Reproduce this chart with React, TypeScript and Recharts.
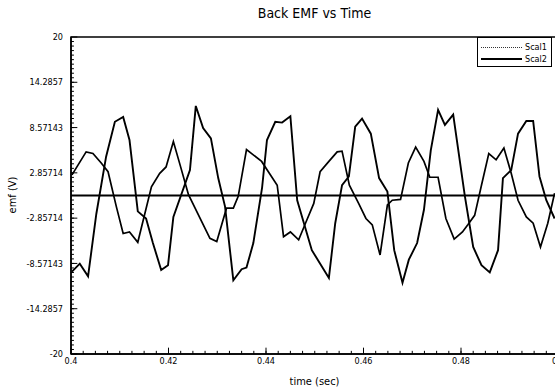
import React from 'react';
import { LineChart, Line, XAxis, YAxis, ReferenceLine, ReferenceArea, Legend } from 'recharts';

// Series (time in s, emf in V)
const scal1Time = [0.4002, 0.4031, 0.4045, 0.4062, 0.4076, 0.4093, 0.4107, 0.4120, 0.4137, 0.4165, 0.4182, 0.4195, 0.4210, 0.4224, 0.4241, 0.4285, 0.4299, 0.4319, 0.4333, 0.4343, 0.4360, 0.4391, 0.4423, 0.4436, 0.4450, 0.4467, 0.4481, 0.4498, 0.4511, 0.4529, 0.4546, 0.4556, 0.4571, 0.4590, 0.4605, 0.4618, 0.4634, 0.4649, 0.4659, 0.4676, 0.4692, 0.4707, 0.4724, 0.4736, 0.4753, 0.4769, 0.4786, 0.4803, 0.4814, 0.4828, 0.4842, 0.4857, 0.4872, 0.4888, 0.4903, 0.4917, 0.4934, 0.4948, 0.4963, 0.4978, 0.4992];
const scal1Emf = [2.6, 5.5, 5.3, 4.1, 3.0, -1.4, -4.8, -4.6, -5.9, 1.1, 2.8, 3.6, 6.8, 3.8, 0.1, -5.4, -5.8, -1.6, -1.6, -0.1, 5.8, 4.3, 1.3, -5.2, -4.6, -5.6, -3.5, -1.0, 3.0, 4.3, 5.5, 5.6, 1.3, -1.0, -2.9, -3.7, -7.5, -1.2, -0.6, -0.5, 4.1, 6.1, 4.3, 2.3, 2.3, -2.9, -5.5, -4.6, -3.7, -2.5, 1.3, 5.3, 4.5, 6.0, 2.8, -0.6, -2.7, -3.5, -6.5, -3.5, 0.3];

const scal2Time = [0.4002, 0.4018, 0.4035, 0.4052, 0.4072, 0.4090, 0.4107, 0.4120, 0.4137, 0.4154, 0.4168, 0.4185, 0.4199, 0.4210, 0.4244, 0.4256, 0.4271, 0.4287, 0.4302, 0.4316, 0.4333, 0.4350, 0.4360, 0.4374, 0.4392, 0.4402, 0.4419, 0.4433, 0.4450, 0.4464, 0.4494, 0.4529, 0.4542, 0.4556, 0.4570, 0.4583, 0.4597, 0.4615, 0.4632, 0.4649, 0.4663, 0.4680, 0.4693, 0.4710, 0.4724, 0.4738, 0.4753, 0.4767, 0.4784, 0.4808, 0.4825, 0.4842, 0.4859, 0.4876, 0.4886, 0.4903, 0.4917, 0.4934, 0.4948, 0.4961, 0.4975, 0.4992];
const scal2Emf = [-9.6, -8.6, -10.2, -2.3, 4.9, 9.3, 9.9, 7.0, -2.0, -2.9, -6.0, -9.4, -8.8, -2.7, 3.2, 11.3, 8.5, 7.2, 2.2, -1.4, -10.7, -9.3, -9.1, -6.0, 1.0, 7.0, 9.3, 9.2, 10.0, -0.6, -6.9, -10.4, -3.5, 1.3, 2.4, 8.7, 9.7, 7.8, 2.2, 0.5, -6.9, -11.0, -8.1, -6.0, -1.8, 5.7, 10.8, 8.9, 10.2, -0.1, -6.5, -8.8, -9.7, -6.9, 2.2, 3.2, 7.8, 9.4, 9.4, 2.4, -0.6, -2.9];

const seriesNames = ['Scal1', 'Scal2'];

const xTicks = [0.4, 0.42, 0.44, 0.46, 0.48, 0.5];
const xTickLabels = ['0.4', '0.42', '0.44', '0.46', '0.48', '0.5'];
const yTicks = [-20, -14.2857, -8.57143, -2.85714, 2.85714, 8.57143, 14.2857, 20];
const yTickLabels = ['-20', '-14.2857', '-8.57143', '-2.85714', '2.85714', '8.57143', '14.2857', '20'];

const scal1Data = scal1Time.map((t, i) => ({ t, v: scal1Emf[i] }));
const scal2Data = scal2Time.map((t, i) => ({ t, v: scal2Emf[i] }));

// minor tick positions (axis decoration only)
const xMinor: number[] = [];
for (let k = 1; k < 40; k++) xMinor.push(0.4 + k * 0.0025);
const yMinor: number[] = [];
for (let k = 1; k < 70; k++) yMinor.push(-20 + (k * 40) / 70);

const X0 = 0.4;
const Y0 = -20;
// tick lengths expressed in axis units (≈3px minor, ≈6px major)
const X_MINOR_LEN = 0.0006;
const X_MAJOR_LEN = 0.0013;
const Y_MINOR_LEN = 0.4;
const Y_MAJOR_LEN = 0.8;

const FONT = "'DejaVu Sans Condensed', 'DejaVu Sans', sans-serif";

const LegendBox = () => (
  <div
    style={{
      width: 75,
      height: 30,
      border: '1px solid #000',
      background: '#fff',
      fontFamily: FONT,
      fontSize: 9,
      color: '#000',
      boxSizing: 'border-box',
      paddingTop: 3,
    }}
  >
    <div style={{ display: 'flex', alignItems: 'center', height: 12 }}>
      <div style={{ width: 41, marginLeft: 3, borderTop: '1px dotted #333' }} />
      <span style={{ marginLeft: 3 }}>{seriesNames[0]}</span>
    </div>
    <div style={{ display: 'flex', alignItems: 'center', height: 12 }}>
      <div style={{ width: 41, marginLeft: 3, borderTop: '2px solid #000' }} />
      <span style={{ marginLeft: 3 }}>{seriesNames[1]}</span>
    </div>
  </div>
);

export default function App() {
  const tickStyle = { fontSize: 9, fill: '#000', fontFamily: FONT };
  return (
    <div
      style={{
        position: 'absolute',
        left: 0,
        top: 0,
        width: 555,
        height: 392,
        overflow: 'hidden',
        background: '#fff',
      }}
    >
      <div
        style={{
          position: 'absolute',
          left: 0,
          top: 5,
          width: 629,
          textAlign: 'center',
          fontFamily: FONT,
          fontSize: 14,
          color: '#000',
        }}
      >
        Back EMF vs Time
      </div>
      <div
        style={{
          position: 'absolute',
          left: 0,
          top: 375,
          width: 629,
          textAlign: 'center',
          fontFamily: FONT,
          fontSize: 11,
          color: '#000',
        }}
      >
        time (sec)
      </div>
      <div
        style={{
          position: 'absolute',
          left: 12,
          top: 195,
          transform: 'translate(-50%, -50%) rotate(-90deg)',
          fontFamily: FONT,
          fontSize: 11,
          color: '#000',
          whiteSpace: 'nowrap',
        }}
      >
        emf (V)
      </div>
      <LineChart
        width={560}
        height={392}
        margin={{ top: 37, right: 1.5, bottom: 0, left: 0 }}
        style={{ position: 'absolute', left: 0, top: 0 }}
      >
        <XAxis
          type="number"
          dataKey="t"
          domain={[0.4, 0.5]}
          ticks={xTicks}
          allowDataOverflow
          height={38}
          tickSize={0}
          tickMargin={4}
          tickLine={false}
          axisLine={{ stroke: '#000', strokeWidth: 1.5 }}
          tick={tickStyle}
          tickFormatter={(v: number) => xTickLabels[xTicks.findIndex((x) => Math.abs(x - v) < 1e-9)] ?? ''}
          interval={0}
        />
        <YAxis
          type="number"
          domain={[-20, 20]}
          ticks={yTicks}
          allowDataOverflow
          width={71}
          tickSize={0}
          tickMargin={8}
          tickLine={false}
          axisLine={{ stroke: '#000', strokeWidth: 1.5 }}
          tick={tickStyle}
          tickFormatter={(v: number) => yTickLabels[yTicks.findIndex((y) => Math.abs(y - v) < 1e-6)] ?? ''}
          interval={0}
        />
        <ReferenceArea
          x1={0.4}
          x2={0.5}
          y1={-20}
          y2={20}
          fill="none"
          fillOpacity={0}
          stroke="#000"
          strokeWidth={1.5}
        />
        {yMinor.map((v) => (
          <ReferenceLine
            key={`ym${v}`}
            segment={[{ x: X0, y: v }, { x: X0 + X_MINOR_LEN, y: v }]}
            stroke="#000"
            strokeWidth={1}
          />
        ))}
        {yTicks.map((v) => (
          <ReferenceLine
            key={`yM${v}`}
            segment={[{ x: X0, y: v }, { x: X0 + X_MAJOR_LEN, y: v }]}
            stroke="#000"
            strokeWidth={1}
          />
        ))}
        {xMinor.map((v) => (
          <ReferenceLine
            key={`xm${v}`}
            segment={[{ x: v, y: Y0 }, { x: v, y: Y0 + Y_MINOR_LEN }]}
            stroke="#000"
            strokeWidth={1}
          />
        ))}
        {xTicks.map((v) => (
          <ReferenceLine
            key={`xM${v}`}
            segment={[{ x: v, y: Y0 }, { x: v, y: Y0 + Y_MAJOR_LEN }]}
            stroke="#000"
            strokeWidth={1}
          />
        ))}
        <ReferenceLine y={0} stroke="#000" strokeWidth={1.8} />
        <Line
          data={scal1Data}
          dataKey="v"
          name={seriesNames[0]}
          stroke="#000"
          strokeWidth={1.7}
          dot={false}
          isAnimationActive={false}
        />
        <Line
          data={scal2Data}
          dataKey="v"
          name={seriesNames[1]}
          stroke="#000"
          strokeWidth={1.9}
          dot={false}
          isAnimationActive={false}
        />
        <Legend
          layout="horizontal"
          verticalAlign="middle"
          align="center"
          wrapperStyle={{ position: 'absolute', left: 477, top: 37, width: 75, height: 30 }}
          content={() => <LegendBox />}
        />
      </LineChart>
    </div>
  );
}
